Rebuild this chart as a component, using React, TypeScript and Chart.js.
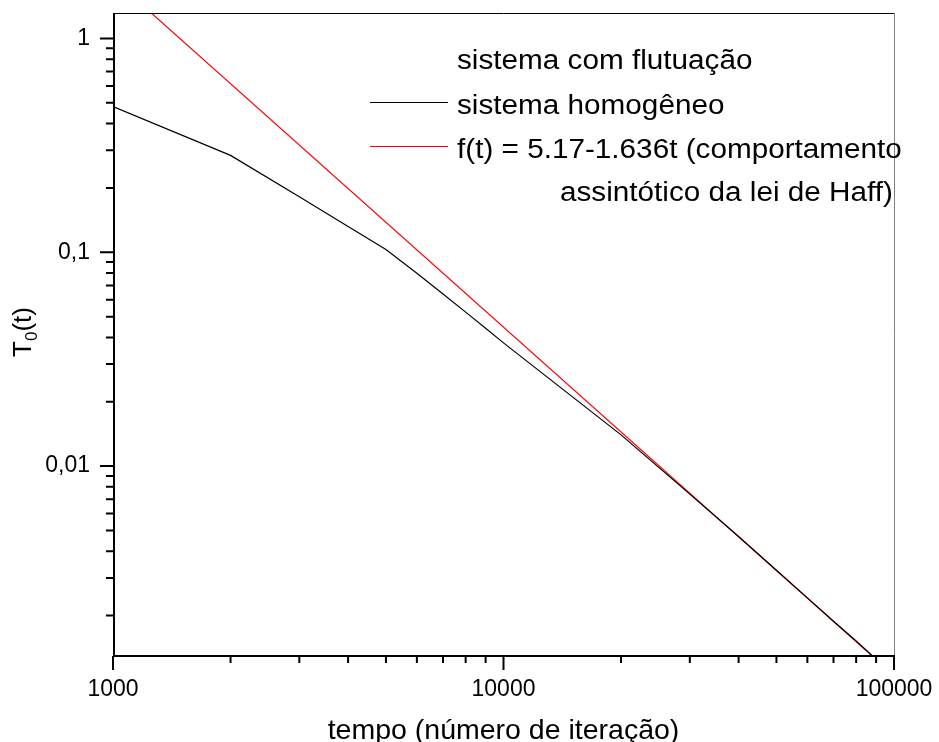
import React, { useEffect, useRef } from 'react';
import { Chart, registerables } from 'chart.js';

Chart.register(...registerables);

// ---- data ----
const timeSteps = [1000, 2000, 3000, 4000, 5000, 6000, 7000, 8000, 9000, 10000, 20000, 30000, 40000, 50000, 60000, 70000, 80000, 90000, 100000];
const homogeneoValues = [0.48, 0.284, 0.182, 0.132, 0.103, 0.0798, 0.0638, 0.0525, 0.0441, 0.0377, 0.014, 0.0074, 0.00469, 0.00326, 0.00242, 0.00188, 0.00152, 0.00125, 0.00105];
const fitTimes = [1000, 100000];
const fitValues = [1.9, 0.00105];

const seriesLabels = ['sistema com flutuação', 'sistema homogêneo', 'f(t) = 5.17-1.636t (comportamento'];
const legendContinuation = 'assintótico da lei de Haff)';

const xTickValues = [1000, 2000, 3000, 4000, 5000, 6000, 7000, 8000, 9000, 10000, 20000, 30000, 40000, 50000, 60000, 70000, 80000, 90000, 100000];
const xMajorTicks = [1000, 10000, 100000];
const xTickLabels = ['1000', '10000', '100000'];
const yTickValues = [0.002, 0.003, 0.004, 0.005, 0.006, 0.007, 0.008, 0.009, 0.01, 0.02, 0.03, 0.04, 0.05, 0.06, 0.07, 0.08, 0.09, 0.1, 0.2, 0.3, 0.4, 0.5, 0.6, 0.7, 0.8, 0.9, 1];
const yMajorTicks = [0.01, 0.1, 1];
const yTickLabels = ['0,01', '0,1', '1'];

const xTitle = 'tempo (número de iteração)';
const yTitleMain = 'T';
const yTitleSub = '0';
const yTitleRest = '(t)';

const X_MIN = 1000;
const X_MAX = 100000;
const Y_MIN = 0.001294;
const Y_MAX = 1.316;

const FONT = "Arial, 'Liberation Sans', Helvetica, sans-serif";

const findMajor = (majors: number[], v: number) =>
  majors.findIndex((m) => Math.abs(m - v) / m < 1e-6);

const zeroPadding = (scale: any) => {
  scale.paddingTop = 0;
  scale.paddingBottom = 0;
  scale.paddingLeft = 0;
  scale.paddingRight = 0;
};

const decorPlugin = {
  id: 'decor',
  afterDraw(chart: any) {
    const { ctx, chartArea: a, scales } = chart;
    const xs = scales.x;
    const ys = scales.y;
    ctx.save();

    // frame (top black, right grey)
    ctx.lineWidth = 1;
    ctx.strokeStyle = '#000';
    ctx.beginPath();
    ctx.moveTo(a.left, a.top + 0.5);
    ctx.lineTo(a.right, a.top + 0.5);
    ctx.stroke();
    ctx.strokeStyle = '#808080';
    ctx.beginPath();
    ctx.moveTo(a.right + 0.5, a.top);
    ctx.lineTo(a.right + 0.5, a.bottom);
    ctx.stroke();

    // axes
    ctx.strokeStyle = '#000';
    ctx.lineWidth = 2;
    ctx.beginPath();
    ctx.moveTo(a.left + 1, a.top);
    ctx.lineTo(a.left + 1, a.bottom);
    ctx.moveTo(a.left, a.bottom);
    ctx.lineTo(a.right + 1, a.bottom);
    ctx.stroke();

    // ticks
    ctx.beginPath();
    xTickValues.forEach((v) => {
      const p = xs.getPixelForValue(v);
      const len = findMajor(xMajorTicks, v) >= 0 ? 14 : 7;
      ctx.moveTo(p, a.bottom);
      ctx.lineTo(p, a.bottom + len);
    });
    yTickValues.forEach((v) => {
      const p = ys.getPixelForValue(v);
      const len = findMajor(yMajorTicks, v) >= 0 ? 14 : 8;
      ctx.moveTo(a.left + 1, p);
      ctx.lineTo(a.left + 1 - len, p);
    });
    ctx.stroke();

    // legend
    const drawStretched = (text: string, x: number, y: number) => {
      ctx.save();
      ctx.translate(x, y);
      ctx.scale(1.1, 1);
      ctx.fillText(text, 0, 0);
      ctx.restore();
    };
    ctx.fillStyle = '#000';
    ctx.font = `27px ${FONT}`;
    ctx.textAlign = 'left';
    ctx.textBaseline = 'alphabetic';
    const legendX = 457;
    const rows = [69, 113.5, 157.5];
    const ds = chart.data.datasets;
    rows.forEach((baseY, i) => {
      const d = ds[i];
      if (d && d.showLine !== false) {
        ctx.strokeStyle = d.borderColor;
        ctx.lineWidth = 1.2;
        ctx.beginPath();
        ctx.moveTo(370, baseY - 11);
        ctx.lineTo(448, baseY - 11);
        ctx.stroke();
      }
      drawStretched(seriesLabels[i], legendX, baseY);
    });
    drawStretched(legendContinuation, 560, 201);

    // x title
    ctx.font = `28.5px ${FONT}`;
    ctx.textAlign = 'center';
    ctx.fillText(xTitle, (a.left + a.right) / 2, 739);

    // y title (rotated)
    ctx.save();
    ctx.translate(31, 332);
    ctx.rotate(-Math.PI / 2);
    ctx.textAlign = 'left';
    ctx.font = `26px ${FONT}`;
    const wT = ctx.measureText(yTitleMain).width;
    const wR = ctx.measureText(yTitleRest).width;
    ctx.font = `17px ${FONT}`;
    const w0 = ctx.measureText(yTitleSub).width;
    const start = -(wT + w0 + wR) / 2;
    ctx.font = `26px ${FONT}`;
    ctx.fillText(yTitleMain, start, 0);
    ctx.font = `17px ${FONT}`;
    ctx.fillText(yTitleSub, start + wT, 6);
    ctx.font = `26px ${FONT}`;
    ctx.fillText(yTitleRest, start + wT + w0, 0);
    ctx.restore();

    ctx.restore();
  },
};

export default function App() {
  const ref = useRef<HTMLCanvasElement>(null);

  useEffect(() => {
    if (!ref.current) return;
    const chart = new Chart(ref.current, {
      type: 'line',
      data: {
        datasets: [
          {
            label: seriesLabels[0],
            data: [],
            showLine: false,
            pointRadius: 0,
            borderColor: '#000',
          },
          {
            label: seriesLabels[1],
            data: timeSteps.map((t, i) => ({ x: t, y: homogeneoValues[i] })),
            borderColor: '#000000',
            borderWidth: 1.2,
            pointRadius: 0,
            fill: false,
            tension: 0,
          },
          {
            label: seriesLabels[2],
            data: fitTimes.map((t, i) => ({ x: t, y: fitValues[i] })),
            borderColor: '#ff0000',
            borderWidth: 1.2,
            pointRadius: 0,
            fill: false,
            tension: 0,
          },
        ],
      },
      options: {
        responsive: false,
        animation: false,
        events: [],
        devicePixelRatio: 1,
        layout: { padding: { top: 13, right: 45, left: 0, bottom: 0 } },
        plugins: {
          legend: { display: false },
          tooltip: { enabled: false },
          title: { display: false },
        },
        scales: {
          x: {
            type: 'logarithmic',
            position: 'bottom',
            min: X_MIN,
            max: X_MAX,
            border: { display: false },
            grid: { display: false, drawTicks: false },
            afterBuildTicks: (scale: any) => {
              scale.ticks = xTickValues.map((v) => ({ value: v }));
            },
            afterFit: (scale: any) => {
              scale.height = 86;
              zeroPadding(scale);
            },
            ticks: {
              autoSkip: false,
              maxRotation: 0,
              minRotation: 0,
              padding: 20,
              color: '#000',
              font: { family: FONT, size: 23 },
              callback: (value: any) => {
                const i = findMajor(xMajorTicks, Number(value));
                return i >= 0 ? xTickLabels[i] : '';
              },
            },
          },
          y: {
            type: 'logarithmic',
            position: 'left',
            min: Y_MIN,
            max: Y_MAX,
            border: { display: false },
            grid: { display: false, drawTicks: false },
            afterBuildTicks: (scale: any) => {
              scale.ticks = yTickValues.map((v) => ({ value: v }));
            },
            afterFit: (scale: any) => {
              scale.width = 113;
              zeroPadding(scale);
            },
            ticks: {
              autoSkip: false,
              padding: 23,
              color: '#000',
              font: { family: FONT, size: 23, lineHeight: 1 },
              callback: (value: any) => {
                const i = findMajor(yMajorTicks, Number(value));
                return i >= 0 ? yTickLabels[i] : '';
              },
            },
          },
        },
      } as any,
      plugins: [decorPlugin],
    });
    return () => chart.destroy();
  }, []);

  return (
    <div style={{ position: 'fixed', left: 0, top: 0, width: 939, height: 742, background: '#fff' }}>
      <canvas ref={ref} width={939} height={742} style={{ display: 'block', width: 939, height: 742 }} />
    </div>
  );
}
